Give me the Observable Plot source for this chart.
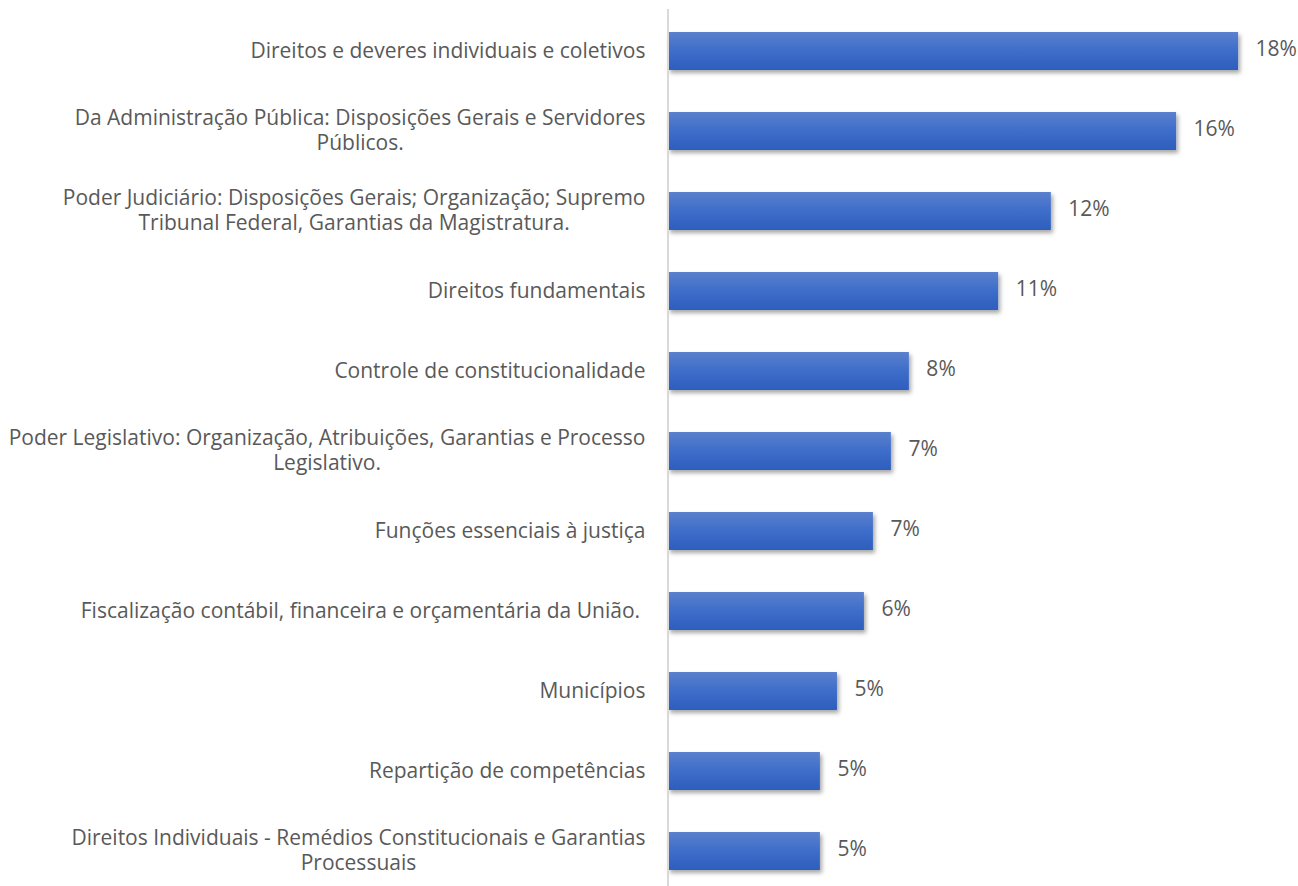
<!DOCTYPE html>
<html>
<head>
<meta charset="utf-8">
<script src="https://cdn.jsdelivr.net/npm/d3@7"></script>
<script src="https://cdn.jsdelivr.net/npm/@observablehq/plot@0.6"></script>
<style>
  html, body { margin: 0; padding: 0; background: #ffffff; overflow: hidden; }
  svg text { white-space: pre; }
</style>
</head>
<body>
<div id="chart"></div>
<script>
const categories = [
  "Direitos e deveres individuais e coletivos",
  "Da Administração Pública: Disposições Gerais e Servidores\nPúblicos.",
  "Poder Judiciário: Disposições Gerais; Organização; Supremo\nTribunal Federal, Garantias da Magistratura.",
  "Direitos fundamentais",
  "Controle de constitucionalidade",
  "Poder Legislativo: Organização, Atribuições, Garantias e Processo\nLegislativo.",
  "Funções essenciais à justiça",
  "Fiscalização contábil, financeira e orçamentária da União. ",
  "Municípios",
  "Repartição de competências",
  "Direitos Individuais - Remédios Constitucionais e Garantias\nProcessuais"
];
const values = [18.39, 16.39, 12.35, 10.65, 7.77, 7.19, 6.61, 6.32, 5.45, 4.90, 4.90];
const valueLabels = ["18%", "16%", "12%", "11%", "8%", "7%", "7%", "6%", "5%", "5%", "5%"];

const data = categories.map((c, i) => ({category: c, value: values[i], label: valueLabels[i]}));

const FONT = "'Open Sans', 'Noto Sans', sans-serif";
const FS = 21;

const svg = Plot.plot({
  width: 1298,
  height: 892,
  marginLeft: 668,
  marginRight: 10,
  marginTop: 9,
  marginBottom: 0,
  x: {domain: [0, 20], axis: null},
  y: {domain: categories, paddingInner: 0.527, paddingOuter: 0.2635, label: null, axis: null},
  style: {fontFamily: FONT, fontSize: FS + "px", color: "#595959", background: "#ffffff", overflow: "visible"},
  marks: [
    Plot.barX(data, {x: "value", y: "category", fill: "url(#barGrad)"}),
    Plot.text(data, {x: "value", y: "category", text: "label", textAnchor: "start", dx: 17, dy: -2, fill: "#595959", fontSize: FS}),
    Plot.ruleX([0], {stroke: "#d9d9d9", strokeWidth: 2, dx: -0.5}),
    Plot.axisY({tickSize: 0, tickPadding: 23, dy: -2, label: null, fontSize: FS, lineHeight: 1.19, fill: "#595959"})
  ]
});

document.getElementById("chart").appendChild(svg);

// gradient + shadow definitions
const defs = d3.select(svg).insert("defs", ":first-child");
const grad = defs.append("linearGradient").attr("id", "barGrad")
  .attr("x1", 0).attr("y1", 0).attr("x2", 0).attr("y2", 1);
grad.append("stop").attr("offset", "0%").attr("stop-color", "#5b80cd");
grad.append("stop").attr("offset", "50%").attr("stop-color", "#3d6dca");
grad.append("stop").attr("offset", "100%").attr("stop-color", "#2e5ebd");
const filt = defs.append("filter").attr("id", "barShadow")
  .attr("x", "-10%").attr("y", "-30%").attr("width", "130%").attr("height", "180%");
filt.append("feDropShadow").attr("dx", 2).attr("dy", 3).attr("stdDeviation", 2)
  .attr("flood-color", "#000").attr("flood-opacity", 0.35);
d3.select(svg).selectAll('g[aria-label="bar"] rect').attr("filter", "url(#barShadow)");

// center multi-line tick labels relative to each other (right edge kept)
d3.select(svg).selectAll('g[aria-label="y-axis tick label"] text').each(function() {
  const tspans = this.querySelectorAll("tspan");
  if (tspans.length < 2) return;
  const bb = this.getBBox();
  const right = bb.x + bb.width;
  let maxW = 0;
  tspans.forEach(t => { maxW = Math.max(maxW, t.getComputedTextLength()); });
  this.setAttribute("text-anchor", "middle");
  tspans.forEach(t => t.setAttribute("x", right - maxW / 2));
  const y0 = +this.getAttribute("y") || 0;
  this.setAttribute("y", y0 - 3);
});
</script>
</body>
</html>
